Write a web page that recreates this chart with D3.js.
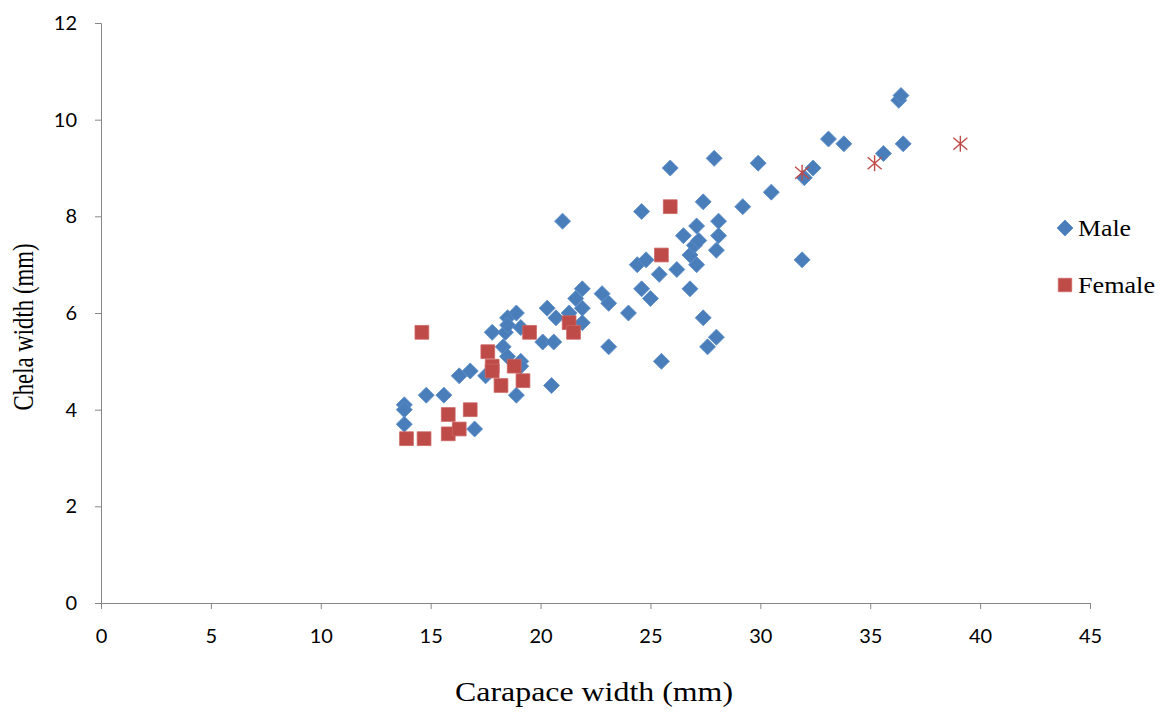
<!DOCTYPE html>
<html>
<head>
<meta charset="utf-8">
<script src="https://cdn.jsdelivr.net/npm/d3@7"></script>
<style>
  body { margin: 0; background: #fff; }
  .axis path, .axis line { stroke: #868686; stroke-width: 1; }
  .axis text { font-family: Lato, "Open Sans", sans-serif; font-size: 20px; fill: #000; }
  .title { font-family: "Liberation Serif", "Times New Roman", serif; fill: #000; }
</style>
</head>
<body>
<script>
// carapace width (mm), chela width (mm)
var male = [
  [13.8, 4.1], [13.8, 4.0], [13.8, 3.7], [14.8, 4.3], [15.6, 4.3], [16.3, 4.7],
  [16.8, 4.8], [17.0, 3.6], [17.5, 4.7], [17.8, 5.6], [18.4, 5.6], [18.5, 5.9],
  [18.5, 5.75], [18.9, 6.0], [19.1, 5.7], [18.3, 5.3], [18.5, 5.1], [19.1, 5.0],
  [19.1, 4.9], [18.9, 4.3], [20.3, 6.1], [20.7, 5.9], [21.3, 6.0], [21.6, 6.3],
  [20.1, 5.4], [20.6, 5.4], [20.5, 4.5], [21.9, 6.5], [22.8, 6.4], [23.1, 6.2],
  [21.9, 6.1], [21.9, 5.8], [24.0, 6.0], [23.1, 5.3], [21.0, 7.9], [24.6, 8.1],
  [24.4, 7.0], [24.8, 7.1], [24.6, 6.5], [25.0, 6.3], [25.4, 6.8], [26.2, 6.9],
  [26.8, 6.5], [27.1, 7.0], [26.8, 7.2], [27.0, 7.4], [27.2, 7.5], [26.5, 7.6],
  [27.1, 7.8], [28.1, 7.9], [28.1, 7.6], [28.0, 7.3], [27.4, 8.3], [29.2, 8.2],
  [30.5, 8.5], [25.9, 9.0], [27.9, 9.2], [29.9, 9.1], [32.0, 8.8], [32.4, 9.0],
  [33.1, 9.6], [33.8, 9.5], [35.6, 9.3], [36.5, 9.5], [36.3, 10.4], [36.4, 10.5],
  [31.9, 7.1], [27.4, 5.9], [27.6, 5.3], [28.0, 5.5], [25.5, 5.0]
];
var female = [
  [14.6, 5.6], [17.6, 5.2], [17.8, 4.9], [17.8, 4.8], [18.2, 4.5], [18.8, 4.9],
  [19.2, 4.6], [19.5, 5.6], [21.3, 5.8], [21.5, 5.6], [15.8, 3.9], [16.8, 4.0],
  [15.8, 3.5], [16.3, 3.6], [13.9, 3.4], [14.7, 3.4], [25.5, 7.2], [25.9, 8.2]
];
// third series, not in legend
var other = [[31.9, 8.9], [35.2, 9.1], [39.1, 9.5]];

var xTicks = [0, 5, 10, 15, 20, 25, 30, 35, 40, 45];
var yTicks = [0, 2, 4, 6, 8, 10, 12];
var seriesNames = ["Male", "Female"];

var blue = "#4A7EBB", red = "#BE4B48";

var margin = {top: 23, right: 71, bottom: 111, left: 101},
    width = 1161 - margin.left - margin.right,
    height = 714 - margin.top - margin.bottom;

var x = d3.scaleLinear().domain([0, 45]).range([0, width]);
var y = d3.scaleLinear().domain([0, 12]).range([height, 0]);

var svg = d3.select("body").append("svg")
    .attr("width", 1161)
    .attr("height", 714);

var g = svg.append("g")
    .attr("transform", "translate(" + margin.left + "," + margin.top + ")");

// axes
g.append("g")
    .attr("class", "axis")
    .attr("transform", "translate(0," + height + ")")
    .call(d3.axisBottom(x).tickValues(xTicks).tickSizeOuter(0).tickSize(6).tickPadding(20));

g.append("g")
    .attr("class", "axis")
    .call(d3.axisLeft(y).tickValues(yTicks).tickSizeOuter(0).tickSize(6).tickPadding(18));

// markers
var diamond = d3.symbol().type(d3.symbolSquare).size(128);
var square = d3.symbol().type(d3.symbolSquare).size(190);
var asterisk = "M0,-8V8M-7,-6L7,6M-7,6L7,-6";

g.selectAll(".male").data(male).enter().append("path")
    .attr("class", "male")
    .attr("d", diamond)
    .attr("transform", function(d) { return "translate(" + x(d[0]) + "," + y(d[1]) + ") rotate(45)"; })
    .attr("fill", blue)
    .attr("stroke", "#5B8CC6")
    .attr("stroke-width", 0.8);

g.selectAll(".female").data(female).enter().append("path")
    .attr("class", "female")
    .attr("d", square)
    .attr("transform", function(d) { return "translate(" + x(d[0]) + "," + y(d[1]) + ")"; })
    .attr("fill", red)
    .attr("stroke", "#CC6663")
    .attr("stroke-width", 0.8);

g.selectAll(".other").data(other).enter().append("path")
    .attr("class", "other")
    .attr("d", asterisk)
    .attr("transform", function(d) { return "translate(" + x(d[0]) + "," + y(d[1]) + ")"; })
    .attr("fill", "none")
    .attr("stroke", red)
    .attr("stroke-width", 1.4);

// axis titles
svg.append("text")
    .attr("class", "title")
    .attr("x", 594)
    .attr("y", 701)
    .attr("text-anchor", "middle")
    .attr("font-size", 28)
    .attr("textLength", 278)
    .attr("lengthAdjust", "spacingAndGlyphs")
    .text("Carapace width (mm)");

svg.append("text")
    .attr("class", "title")
    .attr("transform", "translate(33,327) rotate(-90)")
    .attr("text-anchor", "middle")
    .attr("font-size", 29)
    .attr("textLength", 167)
    .attr("lengthAdjust", "spacingAndGlyphs")
    .text("Chela width (mm)");

// legend
var legend = svg.append("g").attr("transform", "translate(1065,228)");
var legendY = [0, 57];
var legendW = [53, 77];

legend.append("path")
    .attr("d", diamond)
    .attr("transform", "translate(0," + legendY[0] + ") rotate(45)")
    .attr("fill", blue).attr("stroke", "#5B8CC6").attr("stroke-width", 0.8);
legend.append("path")
    .attr("d", d3.symbol().type(d3.symbolSquare).size(180))
    .attr("transform", "translate(0," + legendY[1] + ")")
    .attr("fill", red).attr("stroke", "#CC6663").attr("stroke-width", 0.8);

seriesNames.forEach(function(name, i) {
  legend.append("text")
      .attr("class", "title")
      .attr("x", 13)
      .attr("y", legendY[i] + 8)
      .attr("font-size", 23)
      .attr("textLength", legendW[i])
      .attr("lengthAdjust", "spacingAndGlyphs")
      .text(name);
});
</script>
</body>
</html>
